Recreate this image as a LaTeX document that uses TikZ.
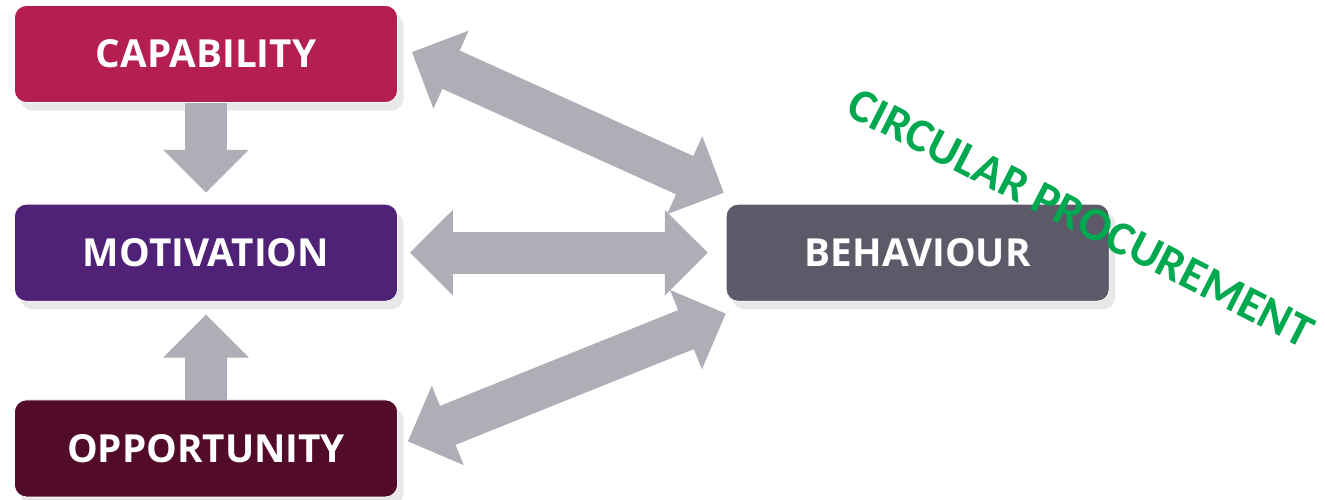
\documentclass[tikz,border=0pt]{standalone}
\usepackage{fontspec}
\setmainfont{Open Sans}
\newfontfamily\stampfont{Carlito}
\usetikzlibrary{arrows.meta, positioning, shadows, calc}

\definecolor{capcol}{HTML}{B51E50}
\definecolor{motcol}{HTML}{4F2277}
\definecolor{oppcol}{HTML}{520B28}
\definecolor{behcol}{HTML}{5D5968}
\definecolor{arrowgray}{HTML}{AFADB5}
\definecolor{stampgreen}{HTML}{00A84F}

\begin{document}
\begin{tikzpicture}[
        node distance=2.0cm,
        factor/.style={rectangle, rounded corners=0.24cm, minimum width=7.66cm,
                       minimum height=1.94cm, text=white, draw=white, thin,
                       font=\fontsize{22}{26}\selectfont\bfseries,
                       drop shadow={opacity=0.18, shadow xshift=0.12cm, shadow yshift=-0.16cm}},
        fatarrow/.style={draw=arrowgray, line width=0.84cm,
                         -{Triangle[length=0.86cm, width=1.66cm]}},
        fatboth/.style={draw=arrowgray, line width=0.84cm,
                        {Triangle[length=0.86cm, width=1.66cm]}-{Triangle[length=0.86cm, width=1.66cm]}}
    ]
        \useasboundingbox (0,0) rectangle (26.5,-9.98);

        \node[factor, fill=capcol] (capability) at (4.12,-1.08) {CAPABILITY};
        \node[factor, fill=motcol, below=2.02cm of capability] (motivation) {MOTIVATION};
        \node[factor, fill=oppcol, below=1.96cm of motivation] (opportunity) {OPPORTUNITY};
        \node[factor, fill=behcol, right=6.56cm of motivation] (behaviour) {BEHAVIOUR};

        \draw[fatarrow] (capability.south) -- ([yshift=0.22cm]motivation.north);
        \draw[fatarrow] (opportunity.north) -- ([yshift=-0.26cm]motivation.south);

        \draw[fatboth] ([xshift=0.24cm]motivation.east) -- ([xshift=-0.36cm]behaviour.west);
        \draw[fatboth] ($(capability.east)+(0.28,0.04)$) -- ($(behaviour.north west)+(-0.04,0.22)$);
        \draw[fatboth] ($(opportunity.east)+(0.2,0.14)$) -- ($(behaviour.south west)+(0,-0.24)$);

        \node[rotate=-27, text=stampgreen, font=\stampfont\fontsize{27}{30}\selectfont\bfseries]
            (stamp) at (21.62,-4.36) {CIRCULAR PROCUREMENT};
    \end{tikzpicture}
\end{document}
